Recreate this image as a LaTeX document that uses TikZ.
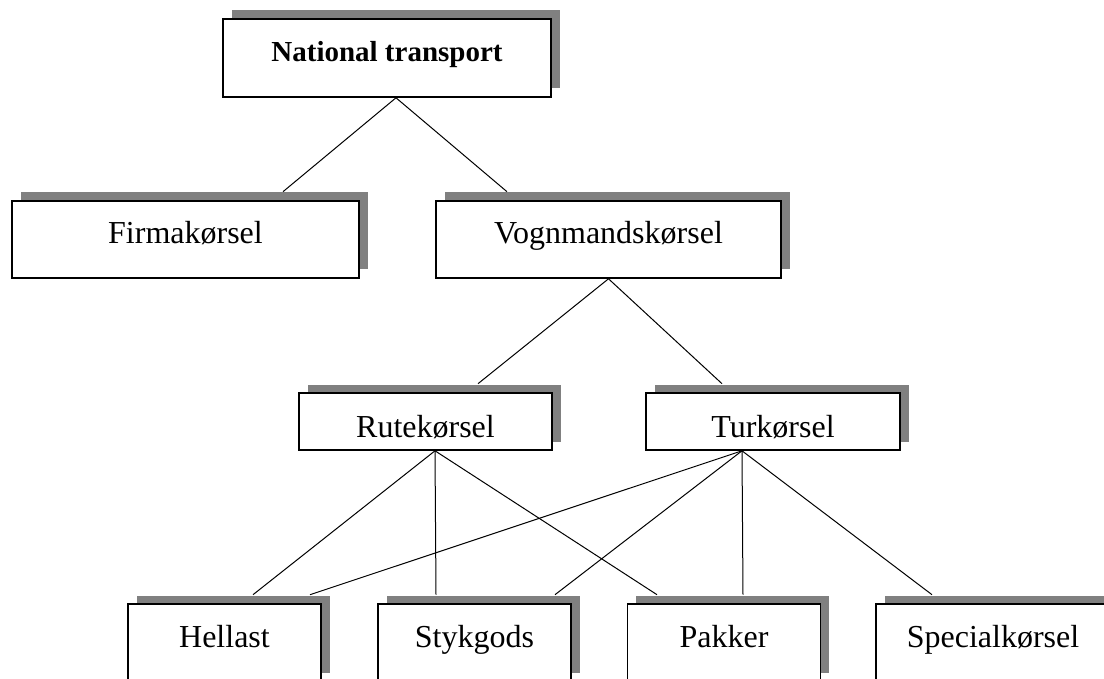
\documentclass[tikz,border=0pt]{standalone}
\usepackage{fontspec}
\setmainfont{Liberation Serif}
\usetikzlibrary{shadows}

\tikzset{
  box/.style={draw, line width=1.6pt, fill=white, inner sep=0pt,
    text height=#1, text depth=0pt,
    drop shadow={shadow xshift=8.5pt, shadow yshift=8.5pt, fill=black!50, opacity=1}},
  link/.style={line width=1pt},
}

\begin{document}
\begin{tikzpicture}[x=1pt, y=-1pt, font=\fontsize{32}{38}\selectfont]
  \useasboundingbox (0, 0) rectangle (1104, 679);

  % Top level
  \node[box=8pt, minimum width=328pt, minimum height=78pt,
        font=\fontsize{29}{34}\selectfont\bfseries] (nat) at (387, 58) {National transport};

  % Second level
  \node[box=9pt, minimum width=347pt, minimum height=77pt] (firma) at (185.5, 239.5) {Firmakørsel};
  \node[box=9pt, minimum width=345pt, minimum height=77pt] (vogn) at (608.5, 239.5) {Vognmandskørsel};

  % Third level
  \node[box=31pt, minimum width=253pt, minimum height=57pt] (rute) at (425.5, 421.5) {Rutekørsel};
  \node[box=31pt, minimum width=254pt, minimum height=57pt] (tur) at (773, 421.5) {Turkørsel};

  % Bottom level
  \node[box=9pt, minimum width=193pt, minimum height=77pt] (hellast) at (224.5, 642.5) {Hellast};
  \node[box=9pt, minimum width=193pt, minimum height=77pt] (styk) at (474.5, 642.5) {Stykgods};
  \node[box=9pt, minimum width=193pt, minimum height=77pt] (pakker) at (724, 642.5) {Pakker};
  \node[box=9pt, minimum width=234pt, minimum height=77pt] (special) at (993, 642.5) {Specialkørsel};

  % Links from the top
  \draw[link] ([xshift=9pt]nat.south) -- ([xshift=97.5pt, yshift=8.5pt]firma.north);
  \draw[link] ([xshift=9pt]nat.south) -- ([xshift=-101.5pt, yshift=8.5pt]vogn.north);

  % Links from Vognmandskørsel
  \draw[link] (vogn.south) -- ([xshift=52.5pt, yshift=8.5pt]rute.north);
  \draw[link] (vogn.south) -- ([xshift=-51pt, yshift=8.5pt]tur.north);

  % Links from Rutekørsel
  \draw[link] ([xshift=9.5pt]rute.south) -- ([xshift=28.5pt, yshift=8.5pt]hellast.north);
  \draw[link] ([xshift=9.5pt]rute.south) -- ([xshift=-38.5pt, yshift=8.5pt]styk.north);
  \draw[link] ([xshift=9.5pt]rute.south) -- ([xshift=-67pt, yshift=8.5pt]pakker.north);

  % Links from Turkørsel
  \draw[link] ([xshift=-31pt]tur.south) -- ([xshift=85.5pt, yshift=8.5pt]hellast.north);
  \draw[link] ([xshift=-31pt]tur.south) -- ([xshift=80.5pt, yshift=8.5pt]styk.north);
  \draw[link] ([xshift=-31pt]tur.south) -- ([xshift=19pt, yshift=8.5pt]pakker.north);
  \draw[link] ([xshift=-31pt]tur.south) -- ([xshift=-61pt, yshift=8.5pt]special.north);
\end{tikzpicture}
\end{document}
